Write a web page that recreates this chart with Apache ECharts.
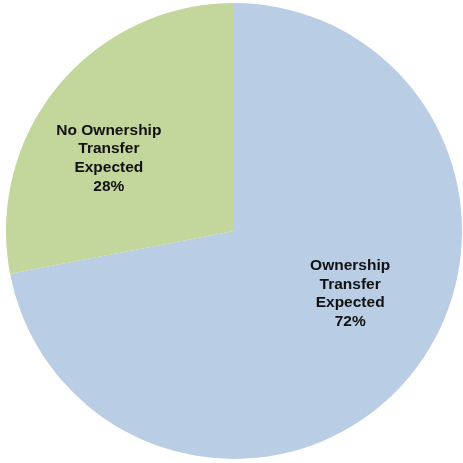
<!DOCTYPE html>
<html>
<head>
<meta charset="utf-8">
<script src="https://cdn.jsdelivr.net/npm/echarts@6/dist/echarts.min.js"></script>
<style>html,body{margin:0;padding:0;background:#fff;}#c{width:463px;height:463px;}</style>
</head>
<body>
<div id="c"></div>
<script>
const categories = ["Ownership Transfer Expected", "No Ownership Transfer Expected"];
const labelLines = ["Ownership\nTransfer\nExpected", "No Ownership\nTransfer\nExpected"];
const values = [72, 28];
const colors = ["#B9CDE5", "#C3D69B"];
const labelShift = [[26, -12], [-35, 2]];

const chart = echarts.init(document.getElementById('c'), null, {renderer: 'canvas'});
chart.setOption({
  animation: false,
  backgroundColor: '#ffffff',
  series: [{
    type: 'pie',
    center: [234, 231],
    radius: 228,
    startAngle: 90,
    clockwise: true,
    avoidLabelOverlap: false,
    itemStyle: {borderWidth: 0},
    emphasis: {disabled: true},
    label: {
      show: true,
      position: 'inside',
      formatter: function (p) { return labelLines[p.dataIndex] + '\n' + p.value + '%'; },
      fontFamily: 'Liberation Sans, Arial, sans-serif',
      fontWeight: 'bold',
      fontSize: 15.5,
      lineHeight: 18.7,
      color: '#111111',
      align: 'center'
    },
    labelLayout: function (p) {
      return {dx: labelShift[p.dataIndex][0], dy: labelShift[p.dataIndex][1]};
    },
    labelLine: {show: false},
    data: categories.map(function (c, i) {
      return {name: c, value: values[i], itemStyle: {color: colors[i]}};
    })
  }]
});
</script>
</body>
</html>
